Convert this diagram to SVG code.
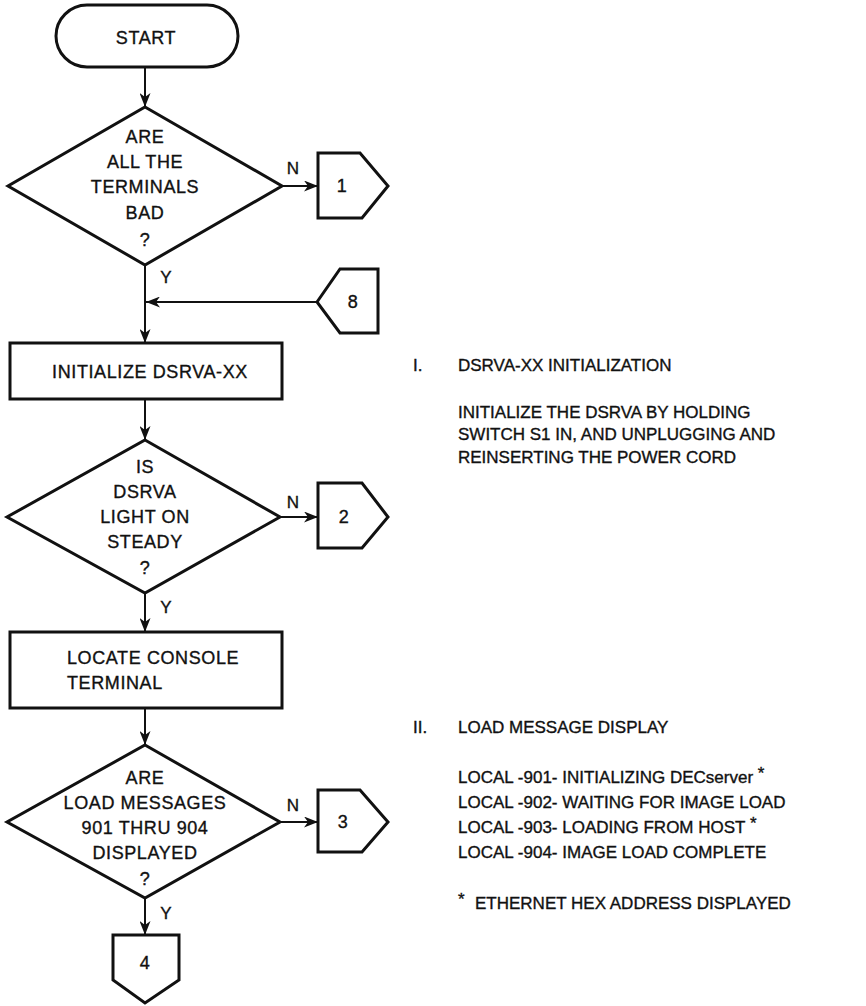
<svg xmlns="http://www.w3.org/2000/svg" width="866" height="1006" viewBox="0 0 866 1006">
  <style>
    .shape { fill: #fff; stroke: #111; stroke-width: 3; stroke-linejoin: miter; }
    .conn { fill: none; stroke: #111; stroke-width: 2; }
    text { font-family: "Liberation Sans", Arial, sans-serif; font-size: 18px; letter-spacing: 0.6px; fill: #111; stroke: #111; stroke-width: 0.35px; }
    .c { text-anchor: middle; }
    .note { font-size: 17px; letter-spacing: 0; }
    .lbl { font-size: 17px; letter-spacing: 0; }
  </style>
  <defs>
    <marker id="arrow" markerWidth="14" markerHeight="11" refX="14" refY="5.5" orient="auto" markerUnits="userSpaceOnUse">
      <path d="M0,0 L14,5.5 L0,11 L4,5.5 z" fill="#111"/>
    </marker>
  </defs>

  <rect width="866" height="1006" fill="#fff"/>

  <!-- connectors -->
  <g id="connectors">
    <line class="conn" x1="145" y1="67" x2="145" y2="107" marker-end="url(#arrow)"/>
    <line class="conn" x1="282" y1="186" x2="318" y2="186" marker-end="url(#arrow)"/>
    <line class="conn" x1="145" y1="265" x2="145" y2="343" marker-end="url(#arrow)"/>
    <line class="conn" x1="317" y1="302" x2="146" y2="302" marker-end="url(#arrow)"/>
    <line class="conn" x1="145" y1="399" x2="145" y2="440" marker-end="url(#arrow)"/>
    <line class="conn" x1="280" y1="517" x2="318" y2="517" marker-end="url(#arrow)"/>
    <line class="conn" x1="145" y1="593" x2="145" y2="632" marker-end="url(#arrow)"/>
    <line class="conn" x1="145" y1="708" x2="145" y2="745" marker-end="url(#arrow)"/>
    <line class="conn" x1="280" y1="822" x2="318" y2="822" marker-end="url(#arrow)"/>
    <line class="conn" x1="145" y1="898" x2="145" y2="935" marker-end="url(#arrow)"/>
    <text x="293" y="174" class="c lbl">N</text>
    <text x="166" y="283" class="c lbl">Y</text>
    <text x="293" y="508" class="c lbl">N</text>
    <text x="166" y="613" class="c lbl">Y</text>
    <text x="293" y="811" class="c lbl">N</text>
    <text x="166" y="919" class="c lbl">Y</text>
  </g>

  <g id="start">
    <rect class="shape" x="56" y="5" width="182" height="62" rx="31" ry="31"/>
    <text x="146" y="44" class="c">START</text>
  </g>

  <g id="decision-terminals">
    <polygon class="shape" points="145,107 282,186 145,265 8,186"/>
    <text x="145" y="143" class="c">ARE</text>
    <text x="145" y="168" class="c">ALL THE</text>
    <text x="145" y="193" class="c">TERMINALS</text>
    <text x="145" y="219" class="c">BAD</text>
    <text x="145" y="246" class="c">?</text>
  </g>

  <g id="conn-1">
    <polygon class="shape" points="318,153 360,153 388,186 362,218 318,218"/>
    <text x="342" y="192" class="c">1</text>
  </g>

  <g id="conn-8">
    <polygon class="shape" points="317,302 340,269 378,269 378,333 340,333"/>
    <text x="353" y="308" class="c">8</text>
  </g>

  <g id="initialize">
    <rect class="shape" x="10" y="343" width="272" height="56"/>
    <text x="150" y="378" class="c">INITIALIZE DSRVA-XX</text>
  </g>

  <g id="decision-light">
    <polygon class="shape" points="145,440 280,517 145,593 7,517"/>
    <text x="145" y="473" class="c">IS</text>
    <text x="145" y="498" class="c">DSRVA</text>
    <text x="145" y="523" class="c">LIGHT ON</text>
    <text x="145" y="548" class="c">STEADY</text>
    <text x="145" y="574" class="c">?</text>
  </g>

  <g id="conn-2">
    <polygon class="shape" points="318,483 362,483 388,517 362,548 318,548"/>
    <text x="344" y="523" class="c">2</text>
  </g>

  <g id="locate">
    <rect class="shape" x="10" y="632" width="272" height="76"/>
    <text x="67" y="664">LOCATE CONSOLE</text>
    <text x="67" y="689">TERMINAL</text>
  </g>

  <g id="decision-messages">
    <polygon class="shape" points="145,745 280,822 145,898 7,822"/>
    <text x="145" y="784" class="c">ARE</text>
    <text x="145" y="809" class="c">LOAD MESSAGES</text>
    <text x="145" y="834" class="c">901 THRU 904</text>
    <text x="145" y="859" class="c">DISPLAYED</text>
    <text x="145" y="885" class="c">?</text>
  </g>

  <g id="conn-3">
    <polygon class="shape" points="318,790 360,790 388,822 362,852 318,852"/>
    <text x="343" y="828" class="c">3</text>
  </g>

  <g id="conn-4">
    <polygon class="shape" points="113,935 179,935 179,980 145,1003 113,980"/>
    <text x="145" y="969" class="c">4</text>
  </g>

  <!-- notes -->
  <g id="note-initialization">
    <text x="413" y="371" class="note">I.</text>
    <text x="458" y="371" class="note">DSRVA-XX INITIALIZATION</text>
    <text x="458" y="418" class="note">INITIALIZE THE DSRVA BY HOLDING</text>
    <text x="458" y="440" class="note">SWITCH S1 IN, AND UNPLUGGING AND</text>
    <text x="458" y="463" class="note">REINSERTING THE POWER CORD</text>
  </g>

  <g id="note-messages">
    <text x="413" y="733" class="note">II.</text>
    <text x="458" y="733" class="note">LOAD MESSAGE DISPLAY</text>
    <text x="458" y="783" class="note">LOCAL -901- INITIALIZING DECserver <tspan dy="-4">*</tspan></text>
    <text x="458" y="808" class="note">LOCAL -902- WAITING FOR IMAGE LOAD</text>
    <text x="458" y="833" class="note">LOCAL -903- LOADING FROM HOST <tspan dy="-4">*</tspan></text>
    <text x="458" y="858" class="note">LOCAL -904- IMAGE LOAD COMPLETE</text>
    <text x="458" y="909" class="note"><tspan dy="-4">*</tspan><tspan x="475" dy="4">ETHERNET HEX ADDRESS DISPLAYED</tspan></text>
  </g>
</svg>
